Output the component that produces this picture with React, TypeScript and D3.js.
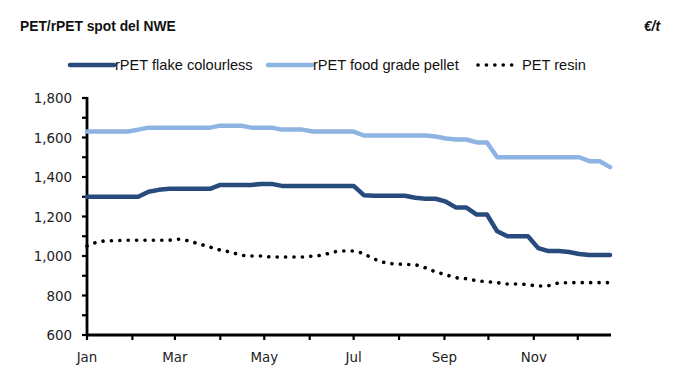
import * as d3 from "d3";
import { useEffect, useRef } from "react";

// weekly assessment dates
const dates = [
  "2024-01-01", "2024-01-08", "2024-01-15", "2024-01-22", "2024-01-29",
  "2024-02-05", "2024-02-12", "2024-02-19", "2024-02-26",
  "2024-03-04", "2024-03-11", "2024-03-18", "2024-03-25",
  "2024-04-01", "2024-04-08", "2024-04-15", "2024-04-22", "2024-04-29",
  "2024-05-06", "2024-05-13", "2024-05-20", "2024-05-27",
  "2024-06-03", "2024-06-10", "2024-06-17", "2024-06-24",
  "2024-07-01", "2024-07-08", "2024-07-15", "2024-07-22", "2024-07-29",
  "2024-08-05", "2024-08-12", "2024-08-19", "2024-08-26",
  "2024-09-02", "2024-09-09", "2024-09-16", "2024-09-23", "2024-09-30",
  "2024-10-07", "2024-10-14", "2024-10-21", "2024-10-28",
  "2024-11-04", "2024-11-11", "2024-11-18", "2024-11-25",
  "2024-12-02", "2024-12-09", "2024-12-16", "2024-12-23",
];

const flake = [
  1300, 1300, 1300, 1300, 1300, 1300, 1325, 1335, 1340, 1340, 1340, 1340, 1340,
  1360, 1360, 1360, 1360, 1365, 1365, 1355, 1355, 1355, 1355, 1355, 1355, 1355,
  1355, 1308, 1305, 1305, 1305, 1305, 1295, 1290, 1290, 1275, 1245, 1245, 1210,
  1210, 1125, 1100, 1100, 1100, 1040, 1025, 1025, 1020, 1010, 1005, 1005, 1005,
];

const pellet = [
  1630, 1630, 1630, 1630, 1630, 1640, 1650, 1650, 1650, 1650, 1650, 1650, 1650,
  1660, 1660, 1660, 1650, 1650, 1650, 1640, 1640, 1640, 1630, 1630, 1630, 1630,
  1630, 1610, 1610, 1610, 1610, 1610, 1610, 1610, 1605, 1595, 1590, 1590, 1575,
  1575, 1500, 1500, 1500, 1500, 1500, 1500, 1500, 1500, 1500, 1480, 1480, 1450,
];

const resin = [
  1050, 1070, 1077, 1078, 1080, 1080, 1080, 1080, 1080, 1085, 1075, 1060, 1045,
  1030, 1020, 1005, 1000, 1000, 995, 995, 995, 995, 1000, 1005, 1020, 1025,
  1025, 1010, 985, 967, 960, 958, 955, 940, 920, 905, 890, 885, 875,
  870, 865, 858, 858, 855, 848, 850, 863, 865, 865, 865, 865, 865,
];

const yTicks = [600, 800, 1000, 1200, 1400, 1600, 1800];
const seriesNames = ["rPET flake colourless", "rPET food grade pellet", "PET resin"];

export default function App() {
  const ref = useRef<SVGSVGElement>(null);

  useEffect(() => {
    const svg = d3.select(ref.current);
    svg.selectAll("*").remove();
    const font = "'Liberation Sans', Arial, sans-serif";
    const tickFont = "'DejaVu Sans', Verdana, sans-serif";

    const parse = d3.timeParse("%Y-%m-%d");
    const t = dates.map((d) => parse(d) as Date);

    const x = d3.scaleTime().domain([t[0], t[t.length - 1]]).range([87, 610]);
    const y = d3.scaleLinear().domain([600, 1800]).range([335, 98]);

    // title
    svg.append("text").attr("x", 20).attr("y", 31)
      .attr("font-family", font).attr("font-size", 13.8).attr("font-weight", "bold")
      .attr("fill", "#111").text("PET/rPET spot del NWE");
    svg.append("text").attr("x", 660).attr("y", 31).attr("text-anchor", "end")
      .attr("font-family", font).attr("font-size", 13.8).attr("font-weight", "bold")
      .attr("font-style", "italic").attr("fill", "#111").text("€/t");

    const series = [
      { name: seriesNames[0], values: flake, color: "#264b7c", dash: null },
      { name: seriesNames[1], values: pellet, color: "#8db4e2", dash: null },
      { name: seriesNames[2], values: resin, color: "#000", dash: "0.1 8.3" },
    ];

    // legend
    const legendX = [70, 268, 478];
    series.forEach((s, i) => {
      const g = svg.append("g").attr("transform", `translate(${legendX[i]},65)`);
      g.append("line").attr("x1", 0).attr("x2", s.dash ? 36 : 44).attr("y1", 0).attr("y2", 0)
        .attr("stroke", s.color).attr("stroke-width", s.dash ? 3.6 : 4.5)
        .attr("stroke-linecap", "round")
        .attr("stroke-dasharray", s.dash);
      g.append("text").attr("x", s.dash ? 44 : 45).attr("y", 5)
        .attr("font-family", font).attr("font-size", 14.6).attr("fill", "#111")
        .text(s.name);
    });

    // y axis
    const yMinor = d3.range(600, 1801, 100);
    svg.append("g").selectAll("line").data(yMinor).join("line")
      .attr("x1", 82).attr("x2", 87)
      .attr("y1", (d) => y(d)).attr("y2", (d) => y(d))
      .attr("stroke", "#000").attr("stroke-width", 2.2);
    svg.append("g").selectAll("text").data(yTicks).join("text")
      .attr("x", 72).attr("y", (d) => y(d) + 5).attr("text-anchor", "end")
      .attr("font-family", tickFont).attr("font-size", 13.4).attr("fill", "#222")
      .text((d) => d3.format(",")(d));
    svg.append("line").attr("x1", 87).attr("x2", 87).attr("y1", 97).attr("y2", 336)
      .attr("stroke", "#000").attr("stroke-width", 2.8);

    // x axis
    const months = d3.timeMonth.range(t[0], t[t.length - 1]);
    svg.append("g").selectAll("line").data(months).join("line")
      .attr("x1", (d) => x(d)).attr("x2", (d) => x(d))
      .attr("y1", 335).attr("y2", 340)
      .attr("stroke", "#000").attr("stroke-width", 2.2);
    svg.append("g").selectAll("text")
      .data(months.filter((d, i) => i % 2 === 0)).join("text")
      .attr("x", (d) => x(d)).attr("y", 362).attr("text-anchor", "middle")
      .attr("font-family", tickFont).attr("font-size", 13.4).attr("fill", "#222")
      .text((d) => d3.timeFormat("%b")(d));
    svg.append("line").attr("x1", 86).attr("x2", 611).attr("y1", 335).attr("y2", 335)
      .attr("stroke", "#000").attr("stroke-width", 2.8);

    // lines
    series.forEach((s) => {
      const line = d3.line<number>()
        .x((d, i) => x(t[i]))
        .y((d) => y(d))
        .curve(s.dash ? d3.curveMonotoneX : d3.curveLinear);
      svg.append("path").datum(s.values).attr("d", line)
        .attr("fill", "none").attr("stroke", s.color)
        .attr("stroke-width", s.dash ? 3.6 : 4.5)
        .attr("stroke-linejoin", "round").attr("stroke-linecap", "round")
        .attr("stroke-dasharray", s.dash);
    });
  }, []);

  return (
    <svg
      ref={ref}
      width={675}
      height={388}
      style={{ position: "absolute", left: 0, top: 0, background: "#fff" }}
    />
  );
}
